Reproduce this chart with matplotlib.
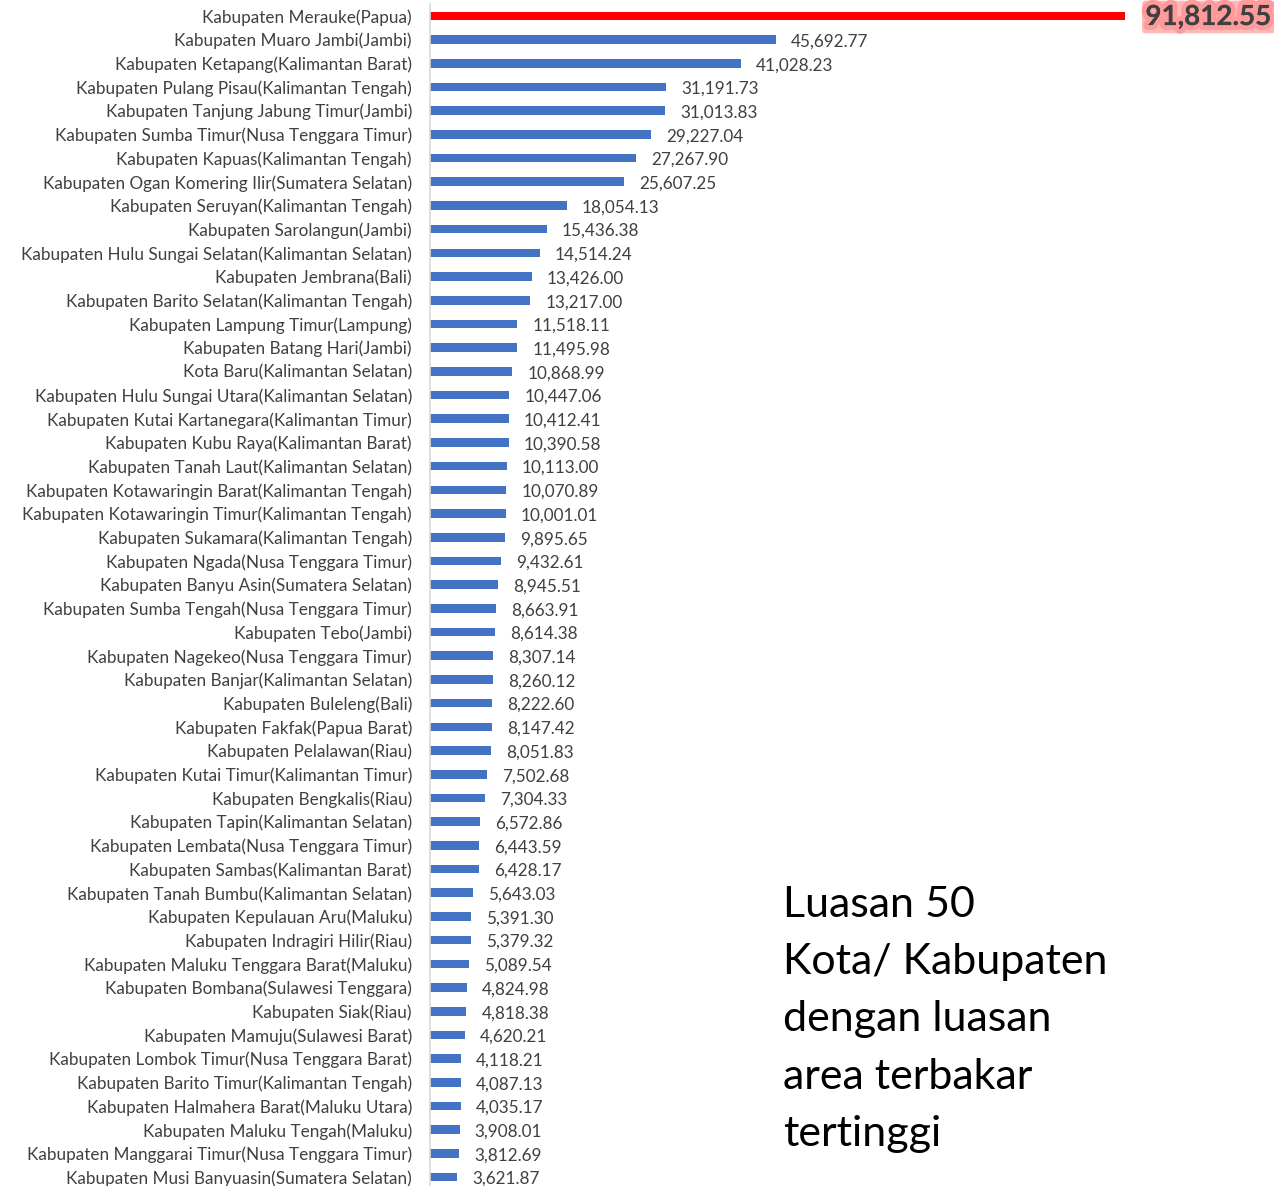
import matplotlib
matplotlib.use("Agg")
import matplotlib.pyplot as plt
import matplotlib.patheffects as pe

plt.rcParams['font.family'] = ['Lato', 'DejaVu Sans']

# urutan dari atas ke bawah
wilayah = [
    "Kabupaten Merauke(Papua)",
    "Kabupaten Muaro Jambi(Jambi)",
    "Kabupaten Ketapang(Kalimantan Barat)",
    "Kabupaten Pulang Pisau(Kalimantan Tengah)",
    "Kabupaten Tanjung Jabung Timur(Jambi)",
    "Kabupaten Sumba Timur(Nusa Tenggara Timur)",
    "Kabupaten Kapuas(Kalimantan Tengah)",
    "Kabupaten Ogan Komering Ilir(Sumatera Selatan)",
    "Kabupaten Seruyan(Kalimantan Tengah)",
    "Kabupaten Sarolangun(Jambi)",
    "Kabupaten Hulu Sungai Selatan(Kalimantan Selatan)",
    "Kabupaten Jembrana(Bali)",
    "Kabupaten Barito Selatan(Kalimantan Tengah)",
    "Kabupaten Lampung Timur(Lampung)",
    "Kabupaten Batang Hari(Jambi)",
    "Kota Baru(Kalimantan Selatan)",
    "Kabupaten Hulu Sungai Utara(Kalimantan Selatan)",
    "Kabupaten Kutai Kartanegara(Kalimantan Timur)",
    "Kabupaten Kubu Raya(Kalimantan Barat)",
    "Kabupaten Tanah Laut(Kalimantan Selatan)",
    "Kabupaten Kotawaringin Barat(Kalimantan Tengah)",
    "Kabupaten Kotawaringin Timur(Kalimantan Tengah)",
    "Kabupaten Sukamara(Kalimantan Tengah)",
    "Kabupaten Ngada(Nusa Tenggara Timur)",
    "Kabupaten Banyu Asin(Sumatera Selatan)",
    "Kabupaten Sumba Tengah(Nusa Tenggara Timur)",
    "Kabupaten Tebo(Jambi)",
    "Kabupaten Nagekeo(Nusa Tenggara Timur)",
    "Kabupaten Banjar(Kalimantan Selatan)",
    "Kabupaten Buleleng(Bali)",
    "Kabupaten Fakfak(Papua Barat)",
    "Kabupaten Pelalawan(Riau)",
    "Kabupaten Kutai Timur(Kalimantan Timur)",
    "Kabupaten Bengkalis(Riau)",
    "Kabupaten Tapin(Kalimantan Selatan)",
    "Kabupaten Lembata(Nusa Tenggara Timur)",
    "Kabupaten Sambas(Kalimantan Barat)",
    "Kabupaten Tanah Bumbu(Kalimantan Selatan)",
    "Kabupaten Kepulauan Aru(Maluku)",
    "Kabupaten Indragiri Hilir(Riau)",
    "Kabupaten Maluku Tenggara Barat(Maluku)",
    "Kabupaten Bombana(Sulawesi Tenggara)",
    "Kabupaten Siak(Riau)",
    "Kabupaten Mamuju(Sulawesi Barat)",
    "Kabupaten Lombok Timur(Nusa Tenggara Barat)",
    "Kabupaten Barito Timur(Kalimantan Tengah)",
    "Kabupaten Halmahera Barat(Maluku Utara)",
    "Kabupaten Maluku Tengah(Maluku)",
    "Kabupaten Manggarai Timur(Nusa Tenggara Timur)",
    "Kabupaten Musi Banyuasin(Sumatera Selatan)",
]

luas = [
    91812.55, 45692.77, 41028.23, 31191.73, 31013.83, 29227.04, 27267.90,
    25607.25, 18054.13, 15436.38, 14514.24, 13426.00, 13217.00, 11518.11,
    11495.98, 10868.99, 10447.06, 10412.41, 10390.58, 10113.00, 10070.89,
    10001.01, 9895.65, 9432.61, 8945.51, 8663.91, 8614.38, 8307.14,
    8260.12, 8222.60, 8147.42, 8051.83, 7502.68, 7304.33, 6572.86,
    6443.59, 6428.17, 5643.03, 5391.30, 5379.32, 5089.54, 4824.98,
    4818.38, 4620.21, 4118.21, 4087.13, 4035.17, 3908.01, 3812.69, 3621.87,
]

judul = "Luasan 50\nKota/ Kabupaten\ndengan luasan\narea terbakar\ntertinggi"

fig = plt.figure(figsize=(12.74, 11.86), dpi=100)
ax = fig.add_axes([430 / 1274, -3 / 1186, 844 / 1274, 1185 / 1186])

posisi = list(range(len(luas)))
warna = ['#ff0000'] + ['#4472c4'] * (len(luas) - 1)
ax.barh(posisi, luas, height=0.36, color=warna)

ax.set_xlim(0, 111500)
ax.set_ylim(len(luas) - 0.5, -0.5)
ax.set_yticks(posisi)
ax.set_yticklabels(wilayah, fontsize=12.3, color='#404040')
ax.tick_params(axis='y', length=0, pad=13)
ax.set_xticks([])
for s in ['top', 'right', 'bottom']:
    ax.spines[s].set_visible(False)
ax.spines['left'].set_color('#d9d9d9')
ax.spines['left'].set_linewidth(1.2)

for i, v in enumerate(luas):
    if i == 0:
        ax.text(v + 2700, i + 0.05, f"{v:,.2f}", va='center', ha='left',
                fontsize=20, fontweight='bold', color='#404040',
                bbox=dict(boxstyle='round,pad=0.12', facecolor='#ffb0b0',
                          edgecolor='none', alpha=0.9),
                path_effects=[pe.withStroke(linewidth=7, foreground='#ff9a9a'),
                              pe.Normal()])
    else:
        ax.text(v + 2000, i + 0.08, f"{v:,.2f}", va='center', ha='left',
                fontsize=12.3, color='#404040')

fig.text(783 / 1274, 1 - 886 / 1186, judul, fontsize=31, va='top', ha='left',
         color='black', linespacing=1.62)

fig.savefig("out.png", dpi=100)
